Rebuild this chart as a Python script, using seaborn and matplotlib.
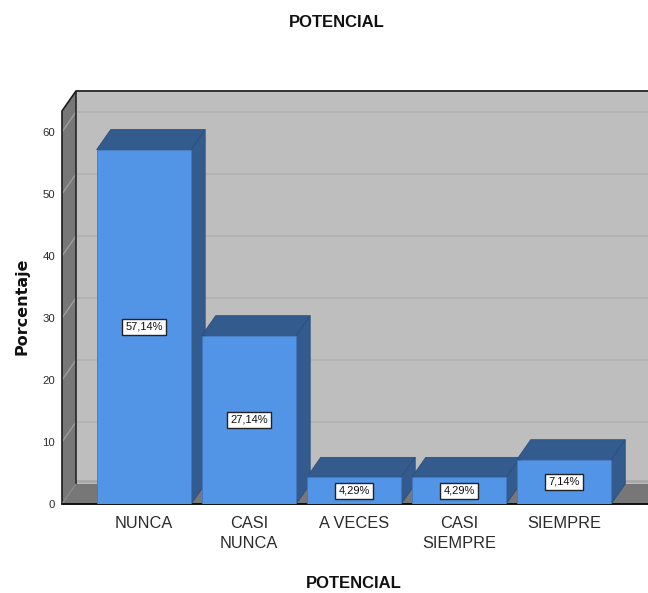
import matplotlib
matplotlib.use("Agg")
import matplotlib.pyplot as plt
from matplotlib.patches import Polygon
import pandas as pd
import seaborn as sns

# Frequency table for the POTENCIAL item
categories = ["NUNCA", "CASI\nNUNCA", "A VECES", "CASI\nSIEMPRE", "SIEMPRE"]
percentages = [57.14, 27.14, 4.29, 4.29, 7.14]
value_labels = ["57,14%", "27,14%", "4,29%", "4,29%", "7,14%"]
y_ticks = [0, 10, 20, 30, 40, 50, 60]

FRONT = "#5294e6"
SHADE = "#335b8e"
WALL = "#bebebe"
GRID = "#b0b0b0"
SIDE = "#777777"
INK = "#2b2b2b"

sns.set_theme(style="white")
plt.rcParams["font.family"] = ["Liberation Sans", "DejaVu Sans"]

W, H = 648, 593
fig = plt.figure(figsize=(W / 100, H / 100), dpi=100, facecolor="white")
ax = fig.add_axes([62 / W, (H - 504) / H, (W - 62) / W, (504 - 91) / H])

table = pd.DataFrame({"categoria": categories, "porcentaje": percentages})
sns.barplot(data=table, x="categoria", y="porcentaje", color=FRONT, saturation=1,
            width=0.9, ax=ax, zorder=5, linewidth=0.6, edgecolor="#3f78c2")

# Pixel scale of the axes, used to express the oblique depth in data units
ax.set_xlim(-0.78, 4.80)
ax.set_ylim(0, 66.6)
dx = 14 / 105
dy = 20 / 6.2
x0, x1 = ax.get_xlim()
top = ax.get_ylim()[1]

# Back wall, left wall and floor of the box
ax.add_patch(Polygon([(x0 + dx, dy), (x1, dy), (x1, top), (x0 + dx, top)],
                     fc=WALL, ec="none", zorder=1))
ax.add_patch(Polygon([(x0, 0), (x0 + dx, dy), (x0 + dx, top), (x0, top - dy)],
                     fc=SIDE, ec="none", zorder=1))
ax.add_patch(Polygon([(x0, 0), (x0 + dx, dy), (x1, dy), (x1, 0)],
                     fc=SIDE, ec="none", zorder=1))

# Gridlines run across the back wall and fold down the left wall
for t in y_ticks[1:] + [top - dy]:
    ax.plot([x0 + dx, x1], [t + dy, t + dy], color=GRID, lw=1.1, zorder=2, clip_on=False)
    ax.plot([x0, x0 + dx], [t, t + dy], color="#a0a0a0", lw=0.9, zorder=2)
ax.plot([x0 + dx, x1], [dy + 0.5, dy + 0.5], color="#a8a8a8", lw=2, zorder=2)

# Box outline
ax.plot([x0, x0, x0 + dx, x1], [0, top - dy, top, top], color="#1c1c1c", lw=1.2,
        zorder=3, clip_on=False)
ax.plot([x0 + dx, x0 + dx], [dy, top], color="#1c1c1c", lw=1.1, zorder=3)
ax.plot([x0, x0 + dx], [0, dy], color="#8c8c8c", lw=0.8, zorder=3)
ax.plot([x0, x1], [0, 0], color="#111111", lw=1.4, zorder=3, clip_on=False)

# Top and side faces of every bar, taken from the drawn front rectangles
for bar, label in zip(ax.patches[:len(percentages)], value_labels):
    left, w, h = bar.get_x(), bar.get_width(), bar.get_height()
    right = left + w
    ax.add_patch(Polygon([(left, h), (left + dx, h + dy), (right + dx, h + dy), (right, h)],
                         fc=SHADE, ec="#2c4f7c", lw=0.6, zorder=4))
    ax.add_patch(Polygon([(right, 0), (right + dx, dy), (right + dx, h + dy), (right, h)],
                         fc=SHADE, ec="#2c4f7c", lw=0.6, zorder=4))
    ax.text(left + w / 2, h / 2, label, ha="center", va="center", fontsize=8,
            color="#111111", zorder=7,
            bbox=dict(boxstyle="square,pad=0.27", fc="white", ec="#222222", lw=1))

ax.set_xticks(range(len(categories)), categories)
ax.set_yticks(y_ticks, [str(t) for t in y_ticks])
ax.tick_params(axis="x", length=0, pad=8.5, labelsize=11.8, labelcolor=INK)
ax.tick_params(axis="y", length=0, pad=5, labelsize=8.2, labelcolor=INK)
for lab in ax.get_xticklabels():
    lab.set_linespacing(1.45)
    lab.set_verticalalignment("top")
for s in ax.spines.values():
    s.set_visible(False)
ax.set_xlabel("")
ax.set_ylabel("")

fig.text(337 / W, 1 - 22.5 / H, "POTENCIAL", ha="center", va="center",
         fontsize=12, fontweight="bold", color="#111111")
fig.text(354 / W, 1 - 583 / H, "POTENCIAL", ha="center", va="center",
         fontsize=12, fontweight="bold", color="#111111")
fig.text(22 / W, 1 - 306 / H, "Porcentaje", rotation=90, ha="center", va="center",
         fontsize=11.5, fontweight="bold", color="#111111", family="DejaVu Sans")

fig.savefig("out.png", dpi=100)
